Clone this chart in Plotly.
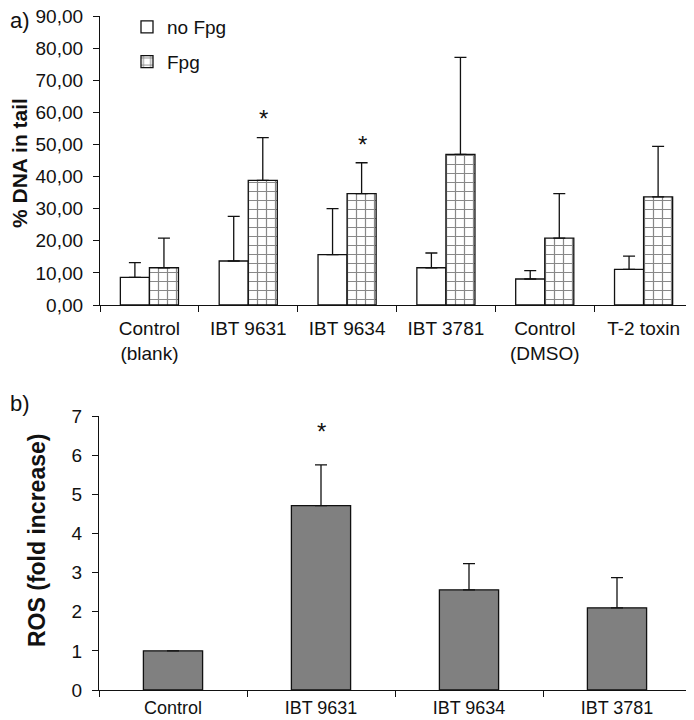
import plotly.graph_objects as go

# ---- data: panel a) ----
cats_a = ["Control<br>(blank)", "IBT 9631", "IBT 9634", "IBT 3781", "Control<br>(DMSO)", "T-2 toxin"]
no_fpg = [8.6, 13.7, 15.7, 11.6, 8.1, 11.1]
no_fpg_err = [4.6, 13.9, 14.3, 4.6, 2.6, 4.1]
fpg = [11.6, 38.8, 34.7, 46.9, 20.8, 33.7]
fpg_err = [9.2, 13.3, 9.6, 30.2, 13.9, 15.7]
star_a_cats = ["IBT 9631", "IBT 9634"]
star_a_y = [58.0, 50.0]
yticks_a = [0, 10, 20, 30, 40, 50, 60, 70, 80, 90]

# ---- data: panel b) ----
cats_b = ["Control", "IBT 9631", "IBT 9634", "IBT 3781"]
ros = [1.0, 4.71, 2.56, 2.10]
ros_err = [0.0, 1.04, 0.67, 0.77]
star_b_cats = ["IBT 9631"]
star_b_y = [6.6]
yticks_b = [0, 1, 2, 3, 4, 5, 6, 7]

# page body has an 8px margin: size the figure to fit the window
OFF = 8
W, H = 694 - OFF, 720 - OFF


def px(x):
    return (x - OFF) / W


def py(y):
    return 1 - (y - OFF) / H


FONT = "Liberation Sans, Arial, sans-serif"
INK = "#111111"
TICKSIZE = 19

fig = go.Figure()

bw_a = 0.294
fig.add_trace(go.Bar(
    x=cats_a, y=no_fpg, name="no Fpg", xaxis="x", yaxis="y",
    width=bw_a, offset=-bw_a,
    marker=dict(color="white", line=dict(color=INK, width=1.3)),
    error_y=dict(type="data", array=no_fpg_err, arrayminus=[0]*len(no_fpg_err),
                 symmetric=False, color=INK, thickness=1.3, width=6),
    legendgroup="g1",
))
fig.add_trace(go.Bar(
    x=cats_a, y=fpg, name="Fpg", xaxis="x", yaxis="y",
    width=bw_a, offset=0,
    marker=dict(color="white", line=dict(color=INK, width=1.3),
                pattern=dict(shape="+", fgcolor=INK, bgcolor="white", size=9, solidity=0.25)),
    error_y=dict(type="data", array=fpg_err, arrayminus=[0]*len(fpg_err),
                 symmetric=False, color=INK, thickness=1.3, width=6),
    legendgroup="g2",
))

bw_b = 0.4
fig.add_trace(go.Bar(
    x=cats_b, y=ros, name="ROS", xaxis="x2", yaxis="y2",
    width=bw_b, offset=-bw_b/2, showlegend=False,
    marker=dict(color="#808080", line=dict(color=INK, width=1.3)),
    error_y=dict(type="data", array=ros_err, arrayminus=[0]*len(ros_err),
                 symmetric=False, color=INK, thickness=1.3, width=6),
))

axis_common = dict(showline=True, linecolor=INK, linewidth=1.3, showgrid=False,
                   zeroline=False, ticks="outside", tickcolor=INK, ticklen=6,
                   tickwidth=1.3, automargin=False, ticklabeloverflow="allow")

fig.update_layout(
    width=W, height=H,
    margin=dict(l=0, r=0, t=0, b=0, autoexpand=False),
    paper_bgcolor="white", plot_bgcolor="white",
    separators=", ",
    barmode="group",
    font=dict(family=FONT, size=TICKSIZE, color=INK),
    xaxis=dict(domain=[px(100), px(693)], anchor="y", type="category",
               tickson="boundaries", ticklabelstandoff=6,
               tickfont=dict(family=FONT, size=TICKSIZE, color=INK), **axis_common),
    yaxis=dict(domain=[py(305), py(16)], anchor="x", range=[0, 90],
               tickvals=yticks_a, tickformat=".2f", ticklabelstandoff=6,
               tickfont=dict(family=FONT, size=TICKSIZE, color=INK), **axis_common),
    xaxis2=dict(domain=[px(99), px(691)], anchor="y2", type="category",
                tickson="boundaries", ticklabelstandoff=1,
                tickfont=dict(family=FONT, size=18, color=INK), **axis_common),
    yaxis2=dict(domain=[py(690), py(416)], anchor="x2", range=[0, 7],
                tickvals=yticks_b, ticklabelstandoff=6,
                tickfont=dict(family=FONT, size=TICKSIZE, color=INK), **axis_common),
    legend=dict(x=px(127), y=py(8), xanchor="left", yanchor="top",
                bgcolor="rgba(0,0,0,0)", font=dict(family=FONT, size=TICKSIZE, color=INK),
                traceorder="grouped", tracegroupgap=7, itemwidth=30),
)

annotations = []
for c, yv in zip(star_a_cats, star_a_y):
    annotations.append(dict(x=c, y=yv, xref="x", yref="y", text="*", showarrow=False,
                            xshift=15, font=dict(family=FONT, size=24, color=INK)))
for c, yv in zip(star_b_cats, star_b_y):
    annotations.append(dict(x=c, y=yv, xref="x2", yref="y2", text="*", showarrow=False,
                            font=dict(family=FONT, size=24, color=INK)))
annotations += [
    dict(x=px(19), y=py(163), xref="paper", yref="paper", text="<b>% DNA in tail</b>",
         textangle=-90, xanchor="center", yanchor="middle", showarrow=False,
         font=dict(family=FONT, size=21, color=INK)),
    dict(x=px(37), y=py(541), xref="paper", yref="paper", text="<b>ROS (fold increase)</b>",
         textangle=-90, xanchor="center", yanchor="middle", showarrow=False,
         font=dict(family=FONT, size=23, color=INK)),
    dict(x=0, y=py(20), xref="paper", yref="paper", text="a)", xanchor="left",
         yanchor="middle", showarrow=False, font=dict(family=FONT, size=22, color=INK)),
    dict(x=0, y=py(403), xref="paper", yref="paper", text="b)", xanchor="left",
         yanchor="middle", showarrow=False, font=dict(family=FONT, size=22, color=INK)),
]
fig.update_layout(annotations=annotations)

fig.write_html("out.html")
